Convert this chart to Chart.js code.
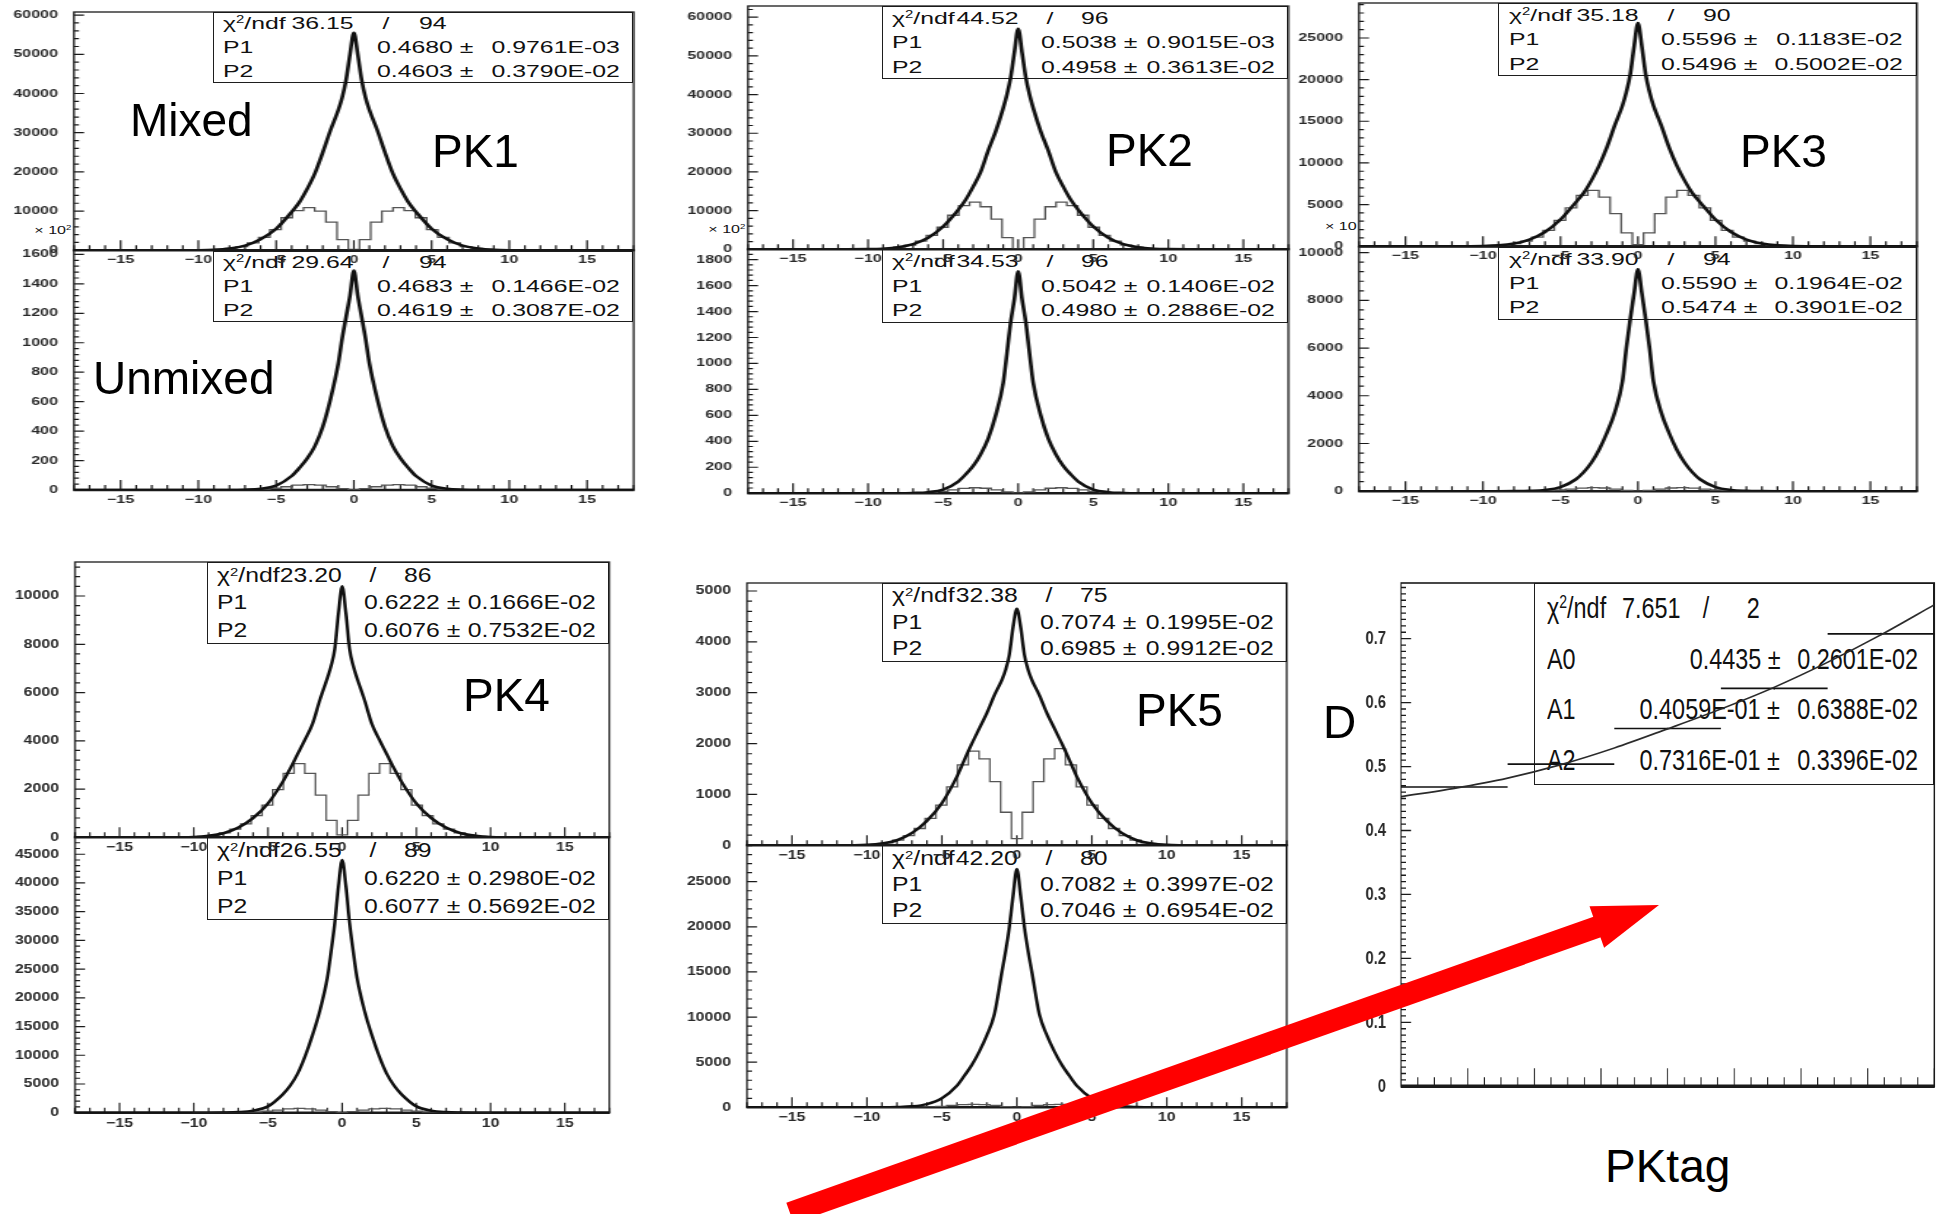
<!DOCTYPE html>
<html>
<head>
<meta charset="utf-8">
<title>Mixing fits in PKtag categories</title>
<script src="https://cdn.jsdelivr.net/npm/chart.js@4.4.1/dist/chart.umd.min.js"></script>
<style>
  html, body { margin: 0; padding: 0; background: #fff; }
  #page { position: relative; width: 1948px; height: 1214px; overflow: hidden; background: #fff;
          font-family: "Liberation Sans", Arial, Helvetica, sans-serif; }
  .panel { position: absolute; transform-origin: 0 0; z-index: 2; }
  .panel canvas { display: block; }
  .box { position: absolute; border: 1.4px solid #1e1e1e; box-sizing: border-box; z-index: 1; }
  .st { position: absolute; white-space: nowrap; color: #111; line-height: 1; z-index: 1; }
  .st sup { font-size: 0.6em; vertical-align: 0.55em; line-height: 0; }
  .big { position: absolute; font-size: 46px; line-height: 46px; color: #000; white-space: nowrap; z-index: 3; }
  #arrow { position: absolute; left: 0; top: 0; z-index: 4; }
</style>
</head>
<body>
<div id="page"></div>
<script>
// ---------------- data ----------------
// decay-time difference grid of the fitted curves
const dtFit = [-18,-12,-10,-9,-8,-7,-6,-5,-4,-3.5,-3,-2.5,-2,-1.5,-1,-0.75,-0.5,-0.25,0,
               0.25,0.5,0.75,1,1.5,2,2.5,3,3.5,4,5,6,7,8,9,10,12,18];
// bin centres of the component histograms
const dtBins = [-10.08,-9.36,-8.64,-7.92,-7.2,-6.48,-5.76,-5.04,-4.32,-3.6,-2.88,-2.16,-1.44,-0.72,0,
                0.72,1.44,2.16,2.88,3.6,4.32,5.04,5.76,6.48,7.2,7.92,8.64,9.36,10.08];
const dtTicks = [-15,-10,-5,0,5,10,15];

// total fit, mixed and unmixed samples, per tagging category
const pk1Mixed   = [0,0,30,130,450,1200,2800,5500,9800,12300,15700,19700,25000,30700,35800,39000,43500,50000,55500,
                    50000,43500,39000,35800,30700,25000,19700,15700,12300,9800,5500,2800,1200,450,130,30,0,0];
const pk1Unmixed = [0,0,0,0,0,2,8,30,95,150,215,300,430,620,860,1030,1175,1320,1490,
                    1320,1175,1030,860,620,430,300,215,150,95,30,8,2,0,0,0,0,0];
const pk2Mixed   = [0,0,40,160,520,1350,3000,5900,10200,12800,16200,20000,25500,30500,36500,40000,44500,51000,57000,
                    51000,44500,40000,36500,30500,25500,20000,16200,12800,10200,5900,3000,1350,520,160,40,0,0];
const pk2Unmixed = [0,0,0,0,0,2,8,28,90,145,210,300,420,600,850,1080,1320,1500,1710,
                    1500,1320,1080,850,600,420,300,210,145,90,28,8,2,0,0,0,0,0];
const pk3Mixed   = [0,0,25,100,320,800,1700,3200,5300,6400,7900,9700,11900,14500,16900,18500,20600,24000,26800,
                    24000,20600,18500,16900,14500,11900,9700,7900,6400,5300,3200,1700,800,320,100,25,0,0];
const pk3Unmixed = [0,0,0,0,4,15,50,170,500,800,1200,1750,2450,3300,4600,6000,7200,8300,9300,
                    8300,7200,6000,4600,3300,2450,1750,1200,800,500,170,50,15,4,0,0,0,0];
const pk4Mixed   = [0,0,15,60,170,400,800,1400,2300,2850,3450,4050,4700,5700,6600,7100,7800,9300,10400,
                    9300,7800,7100,6600,5700,4700,4050,3450,2850,2300,1400,800,400,170,60,15,0,0];
const pk4Unmixed = [0,0,0,0,25,100,350,1100,3200,4700,6800,9800,13500,17800,23500,28000,33000,39500,44000,
                    39500,33000,28000,23500,17800,13500,9800,6800,4700,3200,1100,350,100,25,0,0,0,0];
const pk5Mixed   = [0,0,10,35,100,240,480,830,1350,1680,2000,2300,2600,2950,3250,3450,3750,4300,4650,
                    4300,3750,3450,3250,2950,2600,2300,2000,1680,1350,830,480,240,100,35,10,0,0];
const pk5Unmixed = [0,0,0,0,25,100,350,1000,2400,3500,4700,6200,8000,10300,15000,17300,20000,23500,26400,
                    23500,20000,17300,15000,10300,8000,6200,4700,3500,2400,1000,350,100,25,0,0,0,0];

// mixed-component histograms
const pk1MixedSig   = [20,80,200,470,950,1900,3300,5300,8300,10100,10900,10000,7200,2700,200,
                       2700,7200,10000,10900,10100,8300,5300,3300,1900,950,470,200,80,20];
const pk2MixedSig   = [25,90,240,560,1100,2100,3600,5700,8800,11300,12200,11000,7800,3000,200,
                       3000,7800,11000,12200,11300,8800,5700,3600,2100,1100,560,240,90,25];
const pk3MixedSig   = [15,50,130,300,600,1100,1900,3100,4600,6100,6700,5900,3900,1600,200,
                       1600,3900,5900,6700,6100,4600,3100,1900,1100,600,300,130,50,15];
const pk4MixedSig   = [10,40,90,180,340,560,900,1330,1980,2650,3050,2650,1750,700,100,
                       700,1750,2650,3050,2650,1980,1330,900,560,340,180,90,40,10];
const pk5MixedSig   = [5,20,50,100,190,330,530,790,1150,1580,1850,1700,1250,650,130,
                       650,1250,1700,1900,1580,1150,790,530,330,190,100,50,20,5];
const pk1UnmixedSig = [0,0,0,0,1,2,6,12,22,33,37,33,22,9,1,9,22,33,37,33,22,12,6,2,1,0,0,0,0];
const pk2UnmixedSig = [0,0,0,0,1,3,6,14,25,37,42,38,25,10,1,10,25,38,42,37,25,14,6,3,1,0,0,0,0];
const pk3UnmixedSig = [0,0,0,0,3,9,22,50,90,132,150,135,90,38,5,38,90,135,150,132,90,50,22,9,3,0,0,0,0];
const pk4UnmixedSig = [0,0,0,0,15,45,110,250,450,660,750,680,450,190,20,190,450,680,750,660,450,250,110,45,15,0,0,0,0];
const pk5UnmixedSig = [0,0,0,0,7,20,50,110,200,290,330,300,200,80,10,80,200,300,330,290,200,110,50,20,7,0,0,0,0];

// fit results printed in the stat boxes: [chi2, ndf, P1, P1 err, P2, P2 err]
const statPK1m = ['36.15','94','0.4680','0.9761E-03','0.4603','0.3790E-02'];
const statPK1u = ['29.64','94','0.4683','0.1466E-02','0.4619','0.3087E-02'];
const statPK2m = ['44.52','96','0.5038','0.9015E-03','0.4958','0.3613E-02'];
const statPK2u = ['34.53','96','0.5042','0.1406E-02','0.4980','0.2886E-02'];
const statPK3m = ['35.18','90','0.5596','0.1183E-02','0.5496','0.5002E-02'];
const statPK3u = ['33.90','94','0.5590','0.1964E-02','0.5474','0.3901E-02'];
const statPK4m = ['23.20','86','0.6222','0.1666E-02','0.6076','0.7532E-02'];
const statPK4u = ['26.55','89','0.6220','0.2980E-02','0.6077','0.5692E-02'];
const statPK5m = ['32.38','75','0.7074','0.1995E-02','0.6985','0.9912E-02'];
const statPK5u = ['42.20','80','0.7082','0.3997E-02','0.7046','0.6954E-02'];

// dilution per PKtag bin and its quadratic fit
const tagLo = [0,1,2,3,4];
const tagHi = [1,2,3,4,5];
const dilution    = [0.4680,0.5038,0.5596,0.6222,0.7074];
const dilutionErr = [0.0009761,0.0009015,0.001183,0.001666,0.001995];
const fitTag = [0,0.5,1,1.5,2,2.5,3,3.5,4,4.5,5];
const fitD   = [0.453,0.466,0.482,0.503,0.529,0.559,0.590,0.624,0.663,0.706,0.753];
const dTicks = [0,0.1,0.2,0.3,0.4,0.5,0.6,0.7];
const statD  = ['7.651','2',
                ['A0','0.4435','0.2601E-02'],
                ['A1','0.4059E-01','0.6388E-02'],
                ['A2','0.7316E-01','0.3396E-02']];

// ---------------- drawing ----------------
const FONT = '"Liberation Sans", Arial, Helvetica, sans-serif';
const page = document.getElementById('page');
const PAGE_W = 1948;

// frame, inward tick marks and heavy x axis in the ROOT style
const rootFrame = {
  id: 'rootFrame',
  beforeDatasetsDraw(chart, args, o) {
    const { ctx, chartArea: a, scales: { x, y } } = chart;
    ctx.save();
    ctx.strokeStyle = '#1a1a1a';
    ctx.lineWidth = o.frameW;
    ctx.strokeRect(a.left, a.top, a.right - a.left, a.bottom - a.top);
    ctx.lineWidth = o.tickW;
    ctx.beginPath();
    const steps = (min, max, step, fn) => {
      for (let i = Math.ceil(min / step - 1e-9); i * step <= max + 1e-9; i++) fn(i * step);
    };
    const isMajor = (v, m) => Math.abs(v / m - Math.round(v / m)) < 1e-6;
    steps(x.min, x.max, o.xMinor, v => {
      const px = x.getPixelForValue(v);
      const len = isMajor(v, o.xMajor) ? o.xMajLen : o.xMinLen;
      ctx.moveTo(px, a.bottom); ctx.lineTo(px, a.bottom - len);
    });
    steps(y.min, y.max, o.yMinor, v => {
      const py = y.getPixelForValue(v);
      const len = (isMajor(v, o.yMajor) ? o.yMajLen : o.yMinLen) / o.s;
      ctx.moveTo(a.left, py); ctx.lineTo(a.left + len, py);
    });
    ctx.stroke();
    ctx.lineWidth = o.axisW;
    ctx.beginPath();
    ctx.moveTo(a.left - 0.5, a.bottom); ctx.lineTo(a.right + 0.5, a.bottom);
    ctx.stroke();
    ctx.restore();
  }
};

// one stretched canvas holding a chart whose plot area is [L,R]x[T,B] on the page
function makeChart(p, datasets, xOpts, yOpts, frameOpts) {
  const yAxW = 80, padR = 6, padT = 44, xAxH = 30;
  const yIn = yAxW / p.s, plotIn = (p.R - p.L) / p.s;
  const wIn = Math.ceil(yIn + plotIn + padR / p.s);
  const hIn = Math.ceil(padT + (p.B - p.T) + xAxH);
  const padRight = wIn - yIn - plotIn;
  const xAx = hIn - padT - (p.B - p.T);
  const holder = document.createElement('div');
  holder.className = 'panel';
  holder.style.left = (p.L - yAxW) + 'px';
  holder.style.top = (p.T - padT) + 'px';
  holder.style.width = wIn + 'px';
  holder.style.height = hIn + 'px';
  holder.style.transform = 'scaleX(' + p.s + ')';
  const cv = document.createElement('canvas');
  cv.width = wIn; cv.height = hIn;
  cv.style.width = wIn + 'px'; cv.style.height = hIn + 'px';
  holder.appendChild(cv);
  page.appendChild(holder);
  const noGrid = { display: false, drawTicks: false, tickLength: 0 };
  xOpts.grid = noGrid; yOpts.grid = noGrid;
  xOpts.border = { display: false }; yOpts.border = { display: false };
  xOpts.afterFit = sc => { sc.height = xAx; };
  yOpts.afterFit = sc => { sc.width = yIn; };
  return new Chart(cv, {
    type: 'line',
    data: { datasets },
    options: {
      responsive: false, animation: false, devicePixelRatio: 1,
      layout: { padding: { top: padT, right: padRight, left: 0, bottom: 0 } },
      plugins: { legend: { display: false }, tooltip: { enabled: false },
                 rootFrame: Object.assign({ s: p.s }, frameOpts) },
      elements: { point: { radius: 0 } },
      scales: { x: xOpts, y: yOpts }
    },
    plugins: [rootFrame]
  });
}

const fixedTicks = values => sc => { sc.ticks = values.map(v => ({ value: v })); };

function histPanel(p) {
  const datasets = [
    { data: dtFit.map((x, i) => ({ x, y: p.total[i] })), borderColor: '#111', borderWidth: 2.6,
      pointRadius: 0, cubicInterpolationMode: 'monotone', order: 0 },
    { data: dtBins.map((x, i) => ({ x, y: p.comp[i] })), borderColor: '#555', borderWidth: 1.3,
      pointRadius: 0, stepped: 'middle', order: 1 }
  ];
  const font = { family: FONT, size: p.tick, weight: 'bold' };
  const yTicks = [];
  for (let i = 0; i * p.yStep <= p.yMax; i++) yTicks.push(i * p.yStep);
  const xOpts = {
    type: 'linear', min: -18, max: 18,
    afterBuildTicks: fixedTicks(dtTicks),
    ticks: { autoSkip: false, maxRotation: 0, padding: 3,
             font, color: '#2a2a2a', callback: v => (v < 0 ? '\u2212' + (-v) : String(v)) }
  };
  const yOpts = {
    type: 'linear', min: 0, max: p.yMax,
    afterBuildTicks: fixedTicks(yTicks),
    ticks: { autoSkip: false, padding: 16 / p.s,
             font, color: '#2a2a2a', callback: v => String(v) }
  };
  makeChart(p, datasets, xOpts, yOpts, {
    frameW: 1.3, tickW: 1.2, axisW: 2.6,
    xMajor: 5, xMinor: 1, xMajLen: 10, xMinLen: 5,
    yMajor: p.yStep, yMinor: p.yStep / 5, yMajLen: 10, yMinLen: 5
  });
}

function putText(x, cy, html, align, fs, s) {
  const e = document.createElement('span');
  e.className = 'st';
  e.innerHTML = html;
  e.style.fontSize = fs + 'px';
  e.style.top = (cy - 0.49 * fs) + 'px';
  if (align === 'L') {
    e.style.left = x + 'px'; e.style.transformOrigin = '0 50%';
    e.style.transform = 'scaleX(' + s + ')';
  } else if (align === 'R') {
    e.style.right = (PAGE_W - x) + 'px'; e.style.transformOrigin = '100% 50%';
    e.style.transform = 'scaleX(' + s + ')';
  } else {
    e.style.left = x + 'px'; e.style.transformOrigin = '0 50%';
    e.style.transform = 'scaleX(' + s + ') translateX(-50%)';
  }
  page.appendChild(e);
  return e;
}

function frameBox(b) {
  const d = document.createElement('div');
  d.className = 'box';
  d.style.left = b[0] + 'px'; d.style.top = b[1] + 'px';
  d.style.width = (b[2] - b[0]) + 'px'; d.style.height = (b[3] - b[1]) + 'px';
  page.appendChild(d);
}

function histStats(b, st, fs, s) {
  frameBox(b);
  const [x0, y0, x1, y1] = b, w = x1 - x0, h = y1 - y0;
  const row = i => y0 + h * (2 * i + 1) / 6;
  putText(x0 + 0.025 * w, row(0), '\u03c7<sup>2</sup>/ndf', 'L', fs, s);
  putText(x0 + 0.335 * w, row(0), st[0], 'R', fs, s);
  putText(x0 + 0.413 * w, row(0), '/', 'C', fs, s);
  putText(x0 + 0.49 * w, row(0), st[1], 'L', fs, s);
  ['P1', 'P2'].forEach((lab, k) => {
    putText(x0 + 0.025 * w, row(k + 1), lab, 'L', fs, s);
    putText(x0 + 0.39 * w, row(k + 1), st[2 + 2 * k] + ' \u00b1', 'L', fs, s);
    putText(x0 + 0.967 * w, row(k + 1), st[3 + 2 * k], 'R', fs, s);
  });
}

const ROW1 = { s: 1.46, tick: 11, stat: 17 };
const ROW2 = { s: 1.27, tick: 12.5, stat: 19.5 };

const panels = [
  { L: 73.7,   R: 633.4,  T: 11.7,  B: 250,    yMax: 60800, yStep: 10000, total: pk1Mixed,   comp: pk1MixedSig,   st: statPK1m, box: [212.5, 11.7, 633.4, 83.3],   row: ROW1 },
  { L: 73.7,   R: 633.4,  T: 250,   B: 490,    yMax: 1630,  yStep: 200,   total: pk1Unmixed, comp: pk1UnmixedSig, st: statPK1u, box: [212.5, 250.7, 633.4, 321.7], row: ROW1, expo: '\u00d7 10<sup>2</sup>' },
  { L: 747.6,  R: 1288,   T: 6,     B: 249.3,  yMax: 62900, yStep: 10000, total: pk2Mixed,   comp: pk2MixedSig,   st: statPK2m, box: [882.2, 6, 1288.4, 79],       row: ROW1 },
  { L: 747.6,  R: 1288,   T: 249.3, B: 493.5,  yMax: 1882,  yStep: 200,   total: pk2Unmixed, comp: pk2UnmixedSig, st: statPK2u, box: [882.2, 249.3, 1288.4, 322.7], row: ROW1, expo: '\u00d7 10<sup>2</sup>' },
  { L: 1358.8, R: 1916.7, T: 3.3,   B: 246.5,  yMax: 29200, yStep: 5000,  total: pk3Mixed,   comp: pk3MixedSig,   st: statPK3m, box: [1498.2, 3.3, 1916.7, 76],    row: ROW1 },
  { L: 1358.8, R: 1916.7, T: 246.5, B: 490.7,  yMax: 10235, yStep: 2000,  total: pk3Unmixed, comp: pk3UnmixedSig, st: statPK3u, box: [1498.2, 246.7, 1916.7, 320], row: ROW1, expo: '\u00d7 10' },
  { L: 74.7,   R: 609,    T: 561.7, B: 837,    yMax: 11410, yStep: 2000,  total: pk4Mixed,   comp: pk4MixedSig,   st: statPK4m, box: [207.3, 561.7, 609, 644.3],   row: ROW2 },
  { L: 74.7,   R: 609,    T: 837,   B: 1112.7, yMax: 48000, yStep: 5000,  total: pk4Unmixed, comp: pk4UnmixedSig, st: statPK4u, box: [207.3, 836.7, 609, 920],     row: ROW2 },
  { L: 747.3,  R: 1287,   T: 582.7, B: 845,    yMax: 5157,  yStep: 1000,  total: pk5Mixed,   comp: pk5MixedSig,   st: statPK5m, box: [882, 582.7, 1287, 661.7],    row: ROW2 },
  { L: 747.3,  R: 1287,   T: 845,   B: 1107.3, yMax: 29070, yStep: 5000,  total: pk5Unmixed, comp: pk5UnmixedSig, st: statPK5u, box: [882, 845, 1287, 924],       row: ROW2 }
];

panels.forEach(p => {
  histPanel(Object.assign({ s: p.row.s, tick: p.row.tick }, p));
  histStats(p.box, p.st, p.row.stat, p.row.s);
  if (p.expo) putText(p.L - 2, p.T - 20, p.expo, 'R', p.row.tick, p.row.s);
});

// dilution versus PKtag
(function () {
  const p = { L: 1401, R: 1934.3, T: 582.7, B: 1086, s: 0.78 };
  const datasets = [
    { data: fitTag.map((x, i) => ({ x, y: fitD[i] })), borderColor: '#2a2a2a', borderWidth: 1.7,
      pointRadius: 0, cubicInterpolationMode: 'monotone', order: 0 }
  ];
  dilution.forEach((d, i) => {
    datasets.push({ data: [{ x: tagLo[i], y: d }, { x: tagHi[i], y: d }], borderColor: '#111',
                    borderWidth: 1.6, pointRadius: 0, order: 1 });
    const c = (tagLo[i] + tagHi[i]) / 2;
    datasets.push({ data: [{ x: c, y: d - dilutionErr[i] }, { x: c, y: d + dilutionErr[i] }],
                    borderColor: '#111', borderWidth: 1.6, pointRadius: 0, order: 1 });
  });
  const xOpts = {
    type: 'linear', min: 0, max: 5,
    ticks: { display: false }
  };
  const yOpts = {
    type: 'linear', min: 0, max: 0.787,
    afterBuildTicks: fixedTicks(dTicks),
    ticks: { autoSkip: false, padding: 15 / p.s,
             font: { family: FONT, size: 19, weight: 'bold' }, color: '#2a2a2a',
             callback: v => (Math.abs(v) < 1e-9 ? '0' : v.toFixed(1)) }
  };
  makeChart(p, datasets, xOpts, yOpts, {
    frameW: 1.6, tickW: 1.3, axisW: 3.5,
    xMajor: 0.625, xMinor: 0.15625, xMajLen: 18, xMinLen: 9,
    yMajor: 0.1, yMinor: 0.01, yMajLen: 10, yMinLen: 5
  });

  const b = [1533.8, 582.7, 1934.3, 785], fs = 30, s = 0.78;
  frameBox(b);
  const [x0, y0, x1, y1] = b, w = x1 - x0, h = y1 - y0;
  const row = i => y0 + h * (2 * i + 1) / 8;
  putText(x0 + 0.032 * w, row(0), '\u03c7<sup>2</sup>/ndf', 'L', fs, s);
  putText(x0 + 0.219 * w, row(0), statD[0], 'L', fs, s);
  putText(x0 + 0.43 * w, row(0), '/', 'C', fs, s);
  putText(x0 + 0.563 * w, row(0), statD[1], 'R', fs, s);
  for (let k = 0; k < 3; k++) {
    const r = statD[2 + k];
    putText(x0 + 0.032 * w, row(k + 1), r[0], 'L', fs, s);
    putText(x0 + 0.615 * w, row(k + 1), r[1] + ' \u00b1', 'R', fs, s);
    putText(x0 + 0.96 * w, row(k + 1), r[2], 'R', fs, s);
  }
})();

// slide annotations
const annotations = [
  ['Mixed', 130, 96.6], ['PK1', 432, 127.6], ['Unmixed', 93, 354.6],
  ['PK2', 1106, 126.6], ['PK3', 1740, 127.6], ['PK4', 463, 671.6],
  ['PK5', 1136, 686.6], ['D', 1323, 698.6], ['PKtag', 1605, 1142.6]
];
annotations.forEach(([t, x, y]) => {
  const d = document.createElement('div');
  d.className = 'big';
  d.textContent = t;
  d.style.left = x + 'px'; d.style.top = y + 'px';
  page.appendChild(d);
});

// red arrow pointing into the dilution plot
(function () {
  const NS = 'http://www.w3.org/2000/svg';
  const svg = document.createElementNS(NS, 'svg');
  svg.setAttribute('id', 'arrow');
  svg.setAttribute('width', '1948'); svg.setAttribute('height', '1214');
  const shaft = document.createElementNS(NS, 'line');
  shaft.setAttribute('x1', '790'); shaft.setAttribute('y1', '1213');
  shaft.setAttribute('x2', '1600'); shaft.setAttribute('y2', '926');
  shaft.setAttribute('stroke', '#ff0000'); shaft.setAttribute('stroke-width', '22');
  const head = document.createElementNS(NS, 'polygon');
  head.setAttribute('points', '1659,905 1589.5,906.3 1604.1,947.7');
  head.setAttribute('fill', '#ff0000');
  svg.appendChild(shaft); svg.appendChild(head);
  page.appendChild(svg);
})();
</script>
</body>
</html>
